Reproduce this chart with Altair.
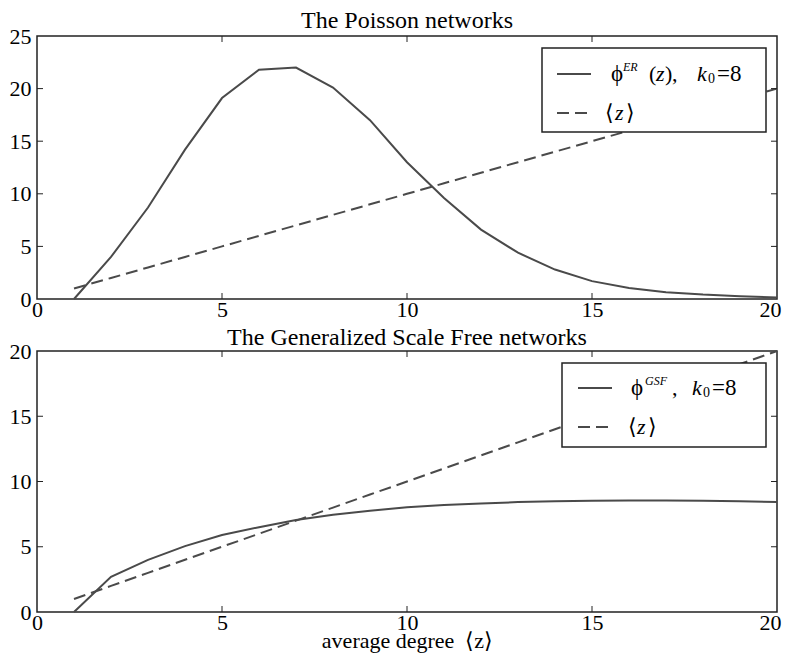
import altair as alt
import pandas as pd

# ---------------- data ----------------
z_vals = list(range(1, 21))
phi_er = [0.0, 4.0, 8.7, 14.2, 19.1, 21.8, 22.0, 20.1, 17.0, 13.0,
          9.6, 6.6, 4.4, 2.8, 1.7, 1.05, 0.65, 0.42, 0.27, 0.15]
phi_gsf = [0.0, 2.7, 4.0, 5.05, 5.9, 6.5, 7.05, 7.45, 7.76, 8.02,
           8.2, 8.32, 8.42, 8.48, 8.52, 8.54, 8.54, 8.52, 8.48, 8.43]
mean_z = [float(v) for v in z_vals]

x_ticks = [0, 5, 10, 15, 20]
y_ticks_top = [0, 5, 10, 15, 20, 25]
y_ticks_bottom = [0, 5, 10, 15, 20]

titles = ["The Poisson networks", "The Generalized Scale Free networks"]
x_title = "average degree\u2002\u27e8z\u27e9"

SERIF = "Liberation Serif"
LINE = "#4a4a4a"
FRAME = "#222222"
W = 740
DASH = [12, 6]
FS = 22
TFS = 24
ONE = alt.Data(values=[{}])


def txt(s, x, y, size=FS, italic=False):
    kw = dict(text=s, align="left", baseline="middle", font=SERIF,
              fontSize=size, color="black")
    if italic:
        kw["fontStyle"] = "italic"
    return alt.Chart(ONE).mark_text(**kw).encode(x=alt.value(x), y=alt.value(y))


def seg(x1, x2, y, dash=None):
    kw = dict(color=LINE, strokeWidth=2)
    if dash:
        kw["strokeDash"] = dash
    return alt.Chart(ONE).mark_rule(**kw).encode(
        x=alt.value(x1), x2=alt.value(x2), y=alt.value(y))


def panel(title, phi, ymax, yticks, H, legend, xtitle=None, toff=-9):
    df = pd.DataFrame({"z": z_vals, "phi": phi, "mean": mean_z})
    xs = alt.Scale(domain=[0, 20], nice=False, zero=False)
    ys = alt.Scale(domain=[0, ymax], nice=False, zero=False)
    xkw = dict(
        values=x_ticks, format="d",
        labelAlign={"condition": {"test": "datum.value == 20", "value": "right"}, "value": "center"},
        labelOffset={"condition": {"test": "datum.value == 20", "value": 4}, "value": 0},
    )
    if xtitle:
        xaxis = alt.Axis(title=xtitle, titleFontSize=22, titlePadding=-3, **xkw)
    else:
        xaxis = alt.Axis(title=None, **xkw)
    yaxis = alt.Axis(values=yticks, format="d", title=None, labelPadding=6)
    base = alt.Chart(df)
    solid = base.mark_line(color=LINE, strokeWidth=2).encode(
        x=alt.X("z:Q", scale=xs, axis=xaxis),
        y=alt.Y("phi:Q", scale=ys, axis=yaxis))
    dashed = base.mark_line(color=LINE, strokeWidth=2, strokeDash=DASH).encode(
        x="z:Q", y="mean:Q")

    tx = alt.Chart(pd.DataFrame({"t": x_ticks[1:-1]}))
    ty = alt.Chart(pd.DataFrame({"t": yticks[1:-1]}))
    tk = dict(color=FRAME, strokeWidth=1)
    ticks = [
        tx.mark_rule(**tk).encode(x="t:Q", y=alt.value(0), y2=alt.value(6)),
        tx.mark_rule(**tk).encode(x="t:Q", y=alt.value(H), y2=alt.value(H - 6)),
        ty.mark_rule(**tk).encode(y="t:Q", x=alt.value(0), x2=alt.value(6)),
        ty.mark_rule(**tk).encode(y="t:Q", x=alt.value(W), x2=alt.value(W - 6)),
    ]

    bx1, bx2, by1, by2 = legend["box"]
    box = alt.Chart(ONE).mark_rect(fill="white", stroke=FRAME, strokeWidth=1.5).encode(
        x=alt.value(bx1), x2=alt.value(bx2), y=alt.value(by1), y2=alt.value(by2))
    layers = [solid, dashed] + ticks + [box]
    sx1, sx2 = legend["sample"]
    r1, r2 = legend["rows"]
    layers.append(seg(sx1, sx2, r1))
    layers.append(seg(sx1, sx2, r2, DASH))
    for (s, x, dy, size, it) in legend["row1"]:
        layers.append(txt(s, x, r1 + dy, size, it))
    for (s, x, dy, size, it) in legend["row2"]:
        layers.append(txt(s, x, r2 + dy, size, it))

    return alt.layer(*layers).properties(
        width=W, height=H,
        title=alt.TitleParams(title, font=SERIF, fontSize=TFS, fontWeight="normal",
                              color="black", offset=toff, frame="group"))


legend_top = {
    "box": (505, 729, 12, 96),
    "sample": (520, 554),
    "rows": (38, 77),
    "row1": [("\u03d5", 574, 0, 23, False), ("ER", 586, -7, 12, True),
             ("(", 612, 0, FS, False), ("z", 619, 0, FS, True), (")", 628, 0, FS, False),
             (",", 635, 0, FS, False),
             ("k", 660, 0, FS, True), ("0", 671, 5, 14, False), ("=8", 680, 0, 23, False)],
    "row2": [("\u27e8", 568, 0, FS, False), ("z", 578, 0, FS, True), ("\u27e9", 589, 0, FS, False)],
}
legend_bottom = {
    "box": (525, 729, 12, 96),
    "sample": (541, 575),
    "rows": (37, 76),
    "row1": [("\u03d5", 594, 0, 23, False), ("GSF", 608, -7, 12, True),
             (",", 635, 0, FS, False),
             ("k", 655, 0, FS, True), ("0", 666, 5, 14, False), ("=8", 675, 0, 23, False)],
    "row2": [("\u27e8", 591, 0, FS, False), ("z", 600, 0, FS, True), ("\u27e9", 611, 0, FS, False)],
}

top = panel(titles[0], phi_er, 25, y_ticks_top, 263, legend_top, toff=-8)
bottom = panel(titles[1], phi_gsf, 20, y_ticks_bottom, 261, legend_bottom,
               xtitle=x_title, toff=-10)

chart = alt.vconcat(top, bottom, spacing=4).configure_view(
    stroke=FRAME, strokeWidth=1.5
).configure_axis(
    grid=False, domain=False, ticks=False,
    labelFont=SERIF, labelFontSize=FS, labelColor="black", labelPadding=0,
    labelFlush=False, labelOverlap=False,
    titleFont=SERIF, titleFontSize=TFS, titleFontWeight="normal", titleColor="black",
    titlePadding=0,
).configure_concat(spacing=4).properties(
    background="white", padding={"left": 0, "top": 0, "right": 0, "bottom": 4})

chart.save("out.html", embed_options={"renderer": "svg", "actions": False})
